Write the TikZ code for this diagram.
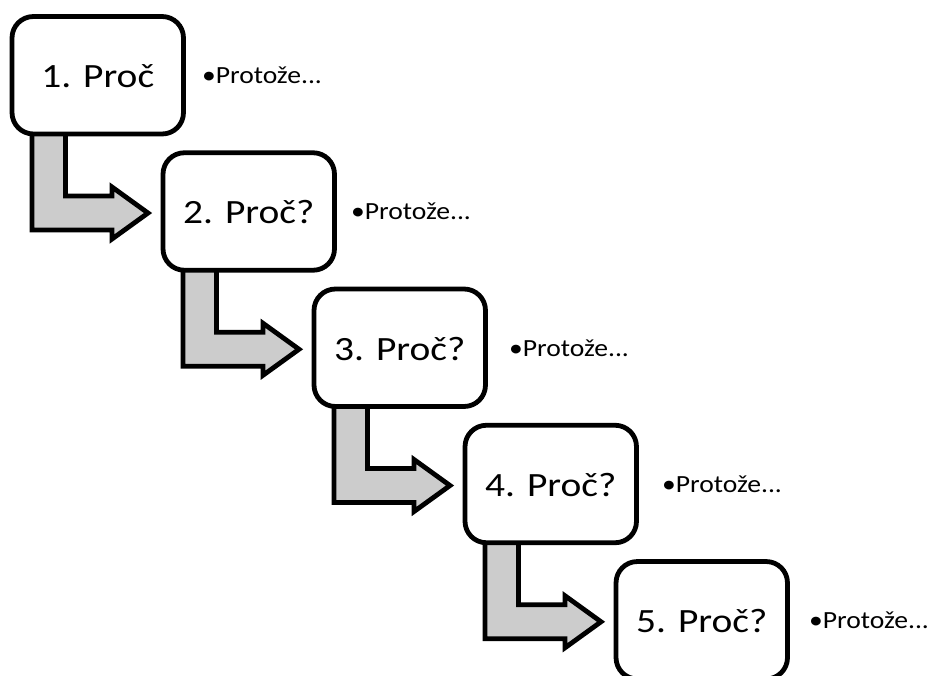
\documentclass[tikz,border=0pt]{standalone}
\usepackage{fontspec}
\usepackage{graphicx}
\setmainfont{Carlito}
\usetikzlibrary{calc}
\definecolor{arrowgray}{RGB}{204,204,204}
\pgfdeclarelayer{bg}
\pgfsetlayers{bg,main}
\tikzset{
  whybox/.style={draw=black, fill=white, line width=3.6pt, rounded corners=16pt,
    minimum width=128.6pt, minimum height=88.1pt, outer sep=0pt, inner sep=0pt,
    font=\fontsize{25.5}{30}\selectfont, text height=18.4pt, text depth=0pt},
  bentarrow/.style={draw=black, fill=arrowgray, line width=3.6pt, line join=miter},
  because/.style={anchor=base west, inner sep=0pt, outer sep=0pt,
    font=\fontsize{18.5}{22}\selectfont}
}
\newcommand{\wide}[1]{\scalebox{1.16}[1]{#1}}
\newcommand{\wider}[1]{\scalebox{1.12}[1]{#1}}
\begin{document}
\begin{tikzpicture}[x=0.75pt, y=-0.75pt]
\useasboundingbox (0,0) rectangle (930,675);
\clip (0,0) rectangle (930,675);
% boxes
\node[whybox] (b1) at (97.75,75.25) {\wide{1. Proč}};
\node[whybox] (b2) at (248.75,211.5) {\wide{2. Proč?}};
\node[whybox] (b3) at (399.75,347.75) {\wide{3. Proč?}};
\node[whybox] (b4) at (550.75,484) {\wide{4. Proč?}};
\node[whybox] (b5) at (701.75,620.25) {\wide{5. Proč?}};
% answers
\node[because] (t1) at ($(b1.north west)+(190,67)$) {\wider{•Protože...}};
\node[because] (t2) at ($(b2.north west)+(188,67)$) {\wider{•Protože...}};
\node[because] (t3) at ($(b3.north west)+(195,67)$) {\wider{•Protože...}};
\node[because] (t4) at ($(b4.north west)+(197,67)$) {\wider{•Protože...}};
\node[because] (t5) at ($(b5.north west)+(193,67)$) {\wider{•Protože...}};
% bent arrows
\begin{pgfonlayer}{bg}
\foreach \a/\b in {b1/b2,b2/b3,b3/b4,b4/b5}{
  \draw[bentarrow]
    ($(\a.north west)+(20,110)$) --
    ($(\a.north west)+(20,213.5)$) --
    ($(\a.north west)+(100,213.5)$) --
    ($(\a.north west)+(100,222.5)$) --
    ($(\a.north west)+(136,196.5)$) --
    ($(\a.north west)+(100,170.5)$) --
    ($(\a.north west)+(100,179.5)$) --
    ($(\a.north west)+(53.5,179.5)$) --
    ($(\a.north west)+(53.5,110)$) -- cycle;
}
\end{pgfonlayer}
\end{tikzpicture}
\end{document}
